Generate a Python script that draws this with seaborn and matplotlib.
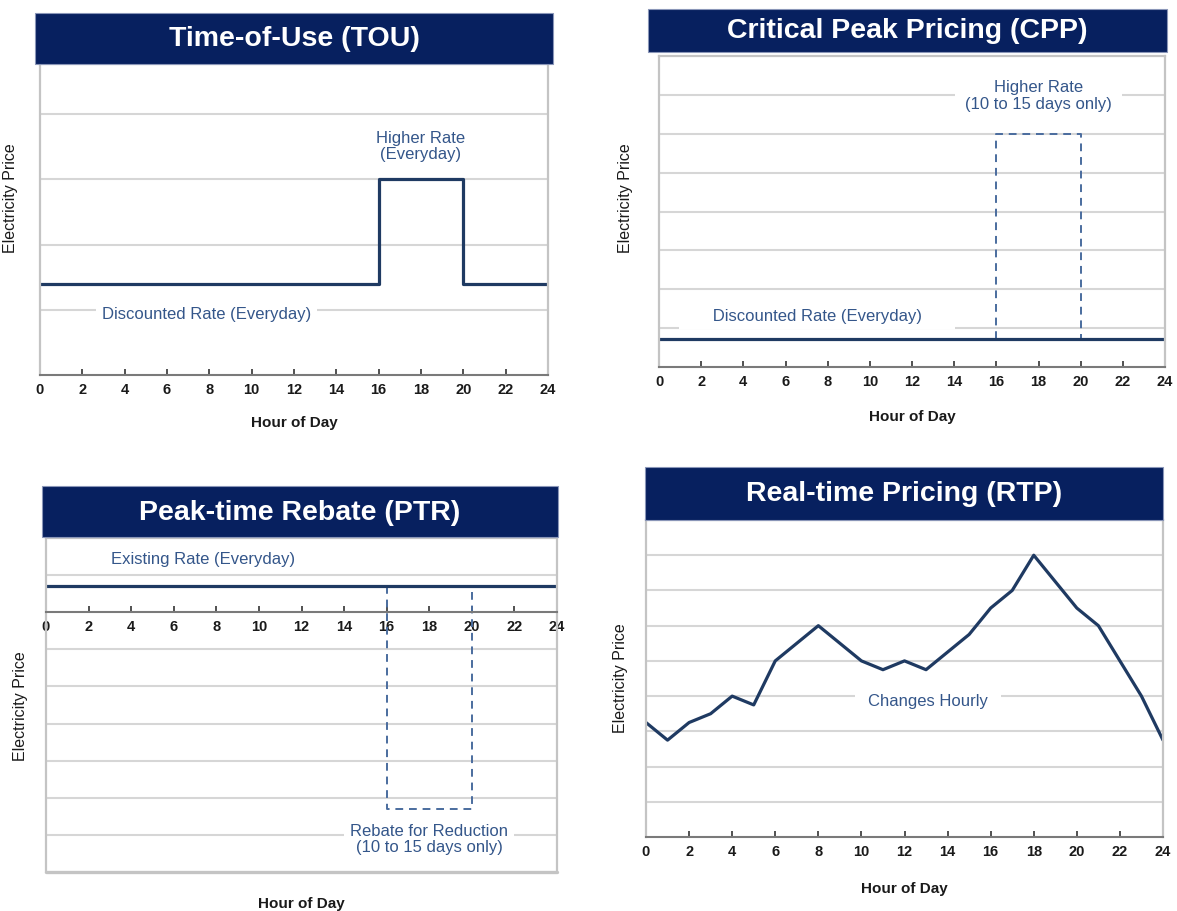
import matplotlib
matplotlib.use("Agg")
import matplotlib.pyplot as plt
from matplotlib.patches import Rectangle
import seaborn as sns

# ---------------- data ----------------
hour_ticks = list(range(0, 25, 2))

tou_hours = [0, 16, 16, 20, 20, 24]
tou_price = [1.4, 1.4, 3.0, 3.0, 1.4, 1.4]

cpp_hours = [0, 24]
cpp_price = [0.72, 0.72]
cpp_peak_hours = [16, 16, 20, 20]
cpp_peak_price = [0.72, 6.0, 6.0, 0.72]

ptr_hours = [0, 24]
ptr_price = [0.7, 0.7]
ptr_rebate_hours = [16, 16, 20, 20]
ptr_rebate_price = [0.7, -5.3, -5.3, 0.7]

rtp_hours = list(range(25))
rtp_price = [3.25, 2.75, 3.25, 3.5, 4.0, 3.75, 5.0, 5.5, 6.0, 5.5, 5.0, 4.75, 5.0,
             4.75, 5.25, 5.75, 6.5, 7.0, 8.0, 7.25, 6.5, 6.0, 5.0, 4.0, 2.75]

titles = ["Time-of-Use (TOU)", "Critical Peak Pricing (CPP)",
          "Peak-time Rebate (PTR)", "Real-time Pricing (RTP)"]
x_label = "Hour of Day"
y_label = "Electricity Price"

# ---------------- style ----------------
sns.set_theme(style="white")
plt.rcParams["font.family"] = ["Liberation Sans", "DejaVu Sans"]

NAVY = "#07205f"
LINE = "#1f3a62"
DASH = "#4a6c9e"
TXT = "#34568a"
GRID = "#d6d6d6"
BORDER = "#c4c4c4"

W, H = 1177, 912
fig = plt.figure(figsize=(W / 100, H / 100), dpi=100)
fig.patch.set_facecolor("white")


def add_panel(l, t, r, b):
    return fig.add_axes([l / W, 1 - b / H, (r - l) / W, (b - t) / H])


def title_bar(l, t, r, b, text):
    fig.add_artist(Rectangle((l / W, 1 - b / H), (r - l) / W, (b - t) / H,
                             transform=fig.transFigure, facecolor=NAVY,
                             edgecolor="#8a96b8", lw=0.8))
    fig.text((l + r) / 2 / W, 1 - (t + b) / 2 / H, text, ha="center", va="center",
             color="white", fontsize=20.5, fontweight="bold")


def style(ax, ylim, grid_levels, xlab_xy, ylab_xy):
    ax.set_xlim(0, 24)
    ax.set_ylim(*ylim)
    ax.set_xticks(hour_ticks)
    ax.set_xticklabels([str(h) for h in hour_ticks], fontweight="bold")
    ax.set_yticks(grid_levels)
    ax.set_yticklabels([])
    ax.tick_params(axis="y", length=0)
    ax.tick_params(axis="x", direction="in", length=4, width=1.2, color="#333333",
                   labelsize=10.5, pad=5, labelcolor="#1a1a1a", bottom=True)
    ax.grid(axis="y", color=GRID, lw=1.5)
    ax.grid(axis="x", visible=False)
    ax.set_axisbelow(True)
    for s in ["left", "right", "top"]:
        ax.spines[s].set_color(BORDER)
        ax.spines[s].set_linewidth(1.6)
        ax.spines[s].set_visible(True)
    ax.spines["bottom"].set_color("#7a7a7a")
    ax.spines["bottom"].set_linewidth(1.5)
    ax.spines["bottom"].set_visible(True)
    ax.set_xlabel(x_label, fontsize=11, fontweight="bold", color="#1a1a1a")
    ax.set_ylabel(y_label, fontsize=11.5, color="#1a1a1a")
    ax.xaxis.set_label_coords(*xlab_xy)
    ax.yaxis.set_label_coords(*ylab_xy)


box = dict(facecolor="white", edgecolor="none", boxstyle="square,pad=0.35")
FS = 12
LS = 1.15

# ---------------- TOU ----------------
ax1 = add_panel(40, 65, 548, 376)
title_bar(35, 14, 553, 65, titles[0])
sns.lineplot(x=tou_hours, y=tou_price, ax=ax1, estimator=None, sort=False,
             color=LINE, lw=2.3)
style(ax1, (0, 4.77), [1, 2, 3, 4], (0.5, -0.13), (-0.043, 0.572))
ax1.text(18, 3.52, "Higher Rate\n(Everyday)", ha="center", va="center",
         color=TXT, fontsize=FS, linespacing=LS, bbox=box, zorder=4)
ax1.text(7.86, 0.94, "Discounted Rate (Everyday)", ha="center", va="center",
         color=TXT, fontsize=FS, bbox=box, zorder=4)

# ---------------- CPP ----------------
ax2 = add_panel(659, 57, 1165, 368)
title_bar(648, 10, 1167, 53, titles[1])
sns.lineplot(x=cpp_peak_hours, y=cpp_peak_price, ax=ax2, estimator=None, sort=False,
             color=DASH, lw=1.4, linestyle=(0, (4, 3)))
sns.lineplot(x=cpp_hours, y=cpp_price, ax=ax2, estimator=None, sort=False,
             color=LINE, lw=2.3)
style(ax2, (0, 8), [1, 2, 3, 4, 5, 6, 7], (0.5, -0.135), (-0.051, 0.547))
ax2.text(18, 7.0, "Higher Rate\n(10 to 15 days only)", ha="center", va="center",
         color=TXT, fontsize=FS, linespacing=LS,
         bbox=dict(facecolor="white", edgecolor="none", boxstyle="square,pad=0.6"), zorder=4)
ax2.text(7.5, 1.32, "      Discounted Rate (Everyday)      ", ha="center", va="center",
         color=TXT, fontsize=FS, bbox=box, zorder=4)

# ---------------- PTR ----------------
ax3 = add_panel(46, 539, 557, 873)
title_bar(42, 487, 558, 538, titles[2])
ax3.spines["bottom"].set_position(("data", 0))
sns.lineplot(x=ptr_rebate_hours, y=ptr_rebate_price, ax=ax3, estimator=None, sort=False,
             color=DASH, lw=1.4, linestyle=(0, (4, 3)))
sns.lineplot(x=ptr_hours, y=ptr_price, ax=ax3, estimator=None, sort=False,
             color=LINE, lw=2.3)
style(ax3, (-7, 2), [-6, -5, -4, -3, -2, -1, 1], (0.5, -0.072), (-0.035, 0.5))
ax3.axhline(-7, color=BORDER, lw=2.4, clip_on=False, zorder=1)
ax3.text(7.4, 1.46, "Existing Rate (Everyday)", ha="center", va="center",
         color=TXT, fontsize=FS, zorder=4)
ax3.text(18, -6.1, "Rebate for Reduction\n(10 to 15 days only)", ha="center", va="center",
         color=TXT, fontsize=FS, linespacing=LS, bbox=box, zorder=4)

# ---------------- RTP ----------------
ax4 = add_panel(646, 521, 1163, 838)
title_bar(645, 468, 1163, 521, titles[3])
sns.lineplot(x=rtp_hours, y=rtp_price, ax=ax4, estimator=None, sort=False,
             color=LINE, lw=2.3)
style(ax4, (0, 9), [1, 2, 3, 4, 5, 6, 7, 8], (0.5, -0.139), (-0.035, 0.505))
ax4.text(13.1, 3.87, "Changes Hourly", ha="center", va="center",
         color=TXT, fontsize=FS,
         bbox=dict(facecolor="white", edgecolor="none", boxstyle="square,pad=0.8"), zorder=4)

fig.savefig("out.png", dpi=100, facecolor="white")
